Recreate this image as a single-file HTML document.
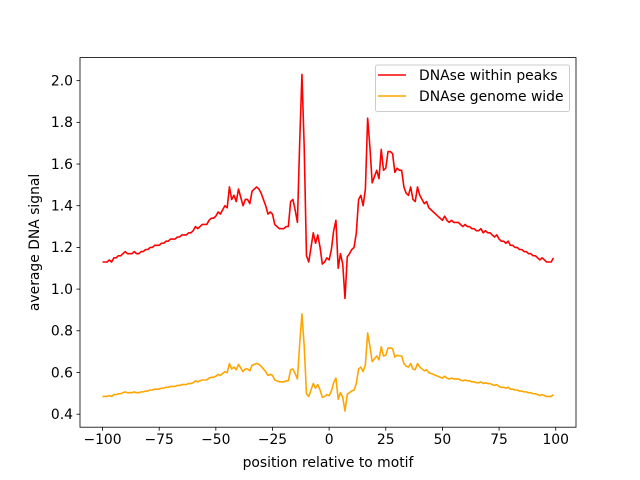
<!DOCTYPE html>
<html><head><meta charset="utf-8"><style>
body{margin:0;background:#fff}
svg{display:block;font-family:"DejaVu Sans","Liberation Sans",sans-serif}
</style></head><body>
<svg id="chart" width="640" height="480" viewBox="0 0 640 480">
<rect x="0" y="0" width="640" height="480" fill="#fff"/>
<g id="plot"></g>
<rect x="80" y="57.6" width="496" height="369.6" fill="none" stroke="#000" stroke-width="0.8"/>
<g id="xticks"></g>
<g id="yticks"></g>
<text x="328" y="467" font-size="13.9" text-anchor="middle">position relative to motif</text>
<text transform="translate(39,242.4) rotate(-90)" font-size="13.9" text-anchor="middle">average DNA signal</text>
<g>
<rect x="375.5" y="65" width="194" height="46.5" rx="2" fill="#fff" fill-opacity="0.8" stroke="#ccc" stroke-width="1"/>
<line x1="378" y1="75" x2="406" y2="75" stroke="#ff0000" stroke-width="1.5"/>
<text x="419" y="80" font-size="13.9">DNAse within peaks</text>
<line x1="378" y1="96" x2="406" y2="96" stroke="#ffa500" stroke-width="1.5"/>
<text x="419" y="101" font-size="13.9">DNAse genome wide</text>
</g>
</svg>
<script>
const xStart = -100;
const peaks = [
1.13,1.13,1.13,1.14,1.13,1.15,1.15,1.16,1.16,1.17,
1.18,1.17,1.17,1.17,1.18,1.17,1.17,1.18,1.18,1.19,
1.19,1.20,1.20,1.21,1.21,1.21,1.22,1.22,1.23,1.23,
1.24,1.24,1.24,1.25,1.25,1.26,1.26,1.26,1.27,1.27,
1.28,1.30,1.29,1.30,1.31,1.31,1.31,1.33,1.34,1.34,
1.35,1.37,1.36,1.38,1.40,1.39,1.49,1.43,1.45,1.42,
1.48,1.44,1.40,1.43,1.43,1.41,1.47,1.48,1.49,1.48,1.46,1.43,1.40,1.36,
1.37,1.36,1.31,1.30,1.29,1.29,1.29,1.30,1.30,1.42,1.43,1.38,1.32,1.70,2.03,1.68,
1.16,1.13,1.20,1.27,1.22,1.26,1.20,1.12,1.13,1.15,1.14,1.19,1.28,1.33,1.10,1.17,
1.12,0.955,1.155,1.17,1.19,1.20,1.27,1.43,1.45,1.40,1.48,1.82,1.68,1.51,1.54,1.57,
1.53,1.67,1.57,1.58,1.66,1.66,1.65,1.56,1.58,1.57,1.57,1.49,1.46,1.45,1.49,1.43,
1.42,1.49,1.45,1.43,1.41,1.42,1.39,
1.38,1.37,1.36,1.35,1.34,1.33,1.35,1.33,1.32,1.33,
1.32,1.32,1.32,1.31,1.30,1.31,1.30,1.30,1.29,1.29,
1.28,1.28,1.29,1.27,1.28,1.27,1.27,1.26,1.25,1.26,
1.24,1.23,1.23,1.22,1.23,1.21,1.21,1.20,1.20,1.19,
1.19,1.18,1.18,1.17,1.17,1.16,1.16,1.15,1.14,1.15,
1.14,1.13,1.13,1.13,1.15
];
const genome = [
.485,.485,.485,.489,.485,.494,.494,.498,.498,.503,
.507,.503,.503,.503,.507,.503,.503,.507,.507,.511,
.511,.516,.516,.520,.520,.520,.525,.525,.529,.529,
.533,.533,.533,.538,.538,.542,.542,.542,.547,.547,
.551,.560,.555,.560,.564,.564,.564,.573,.577,.577,
.582,.591,.586,.595,.604,.599,.643,.617,.626,.613,
.639,.621,.604,.617,.617,.608,.635,.639,.643,.639,.630,.617,.604,.586,
.591,.586,.564,.560,.555,.555,.555,.560,.560,.613,.617,.595,.569,.736,.881,.727,
.498,.485,.516,.547,.525,.542,.516,.481,.485,.494,.489,.511,.551,.573,.472,.503,
.481,.415,.496,.503,.511,.516,.547,.617,.626,.604,.639,.789,.727,.652,.665,.679,
.661,.723,.679,.683,.718,.718,.714,.674,.683,.679,.679,.643,.630,.626,.643,.617,
.613,.643,.626,.617,.608,.613,.599,
.595,.591,.586,.582,.577,.573,.582,.573,.569,.573,
.569,.569,.569,.564,.560,.564,.560,.560,.555,.555,
.551,.551,.555,.547,.551,.547,.547,.542,.538,.542,
.533,.529,.529,.525,.529,.520,.520,.516,.516,.511,
.511,.507,.507,.503,.503,.498,.498,.494,.489,.494,
.489,.485,.485,.485,.494
];
const xTicks = [-100,-75,-50,-25,0,25,50,75,100];
const yTicks = [0.4,0.6,0.8,1.0,1.2,1.4,1.6,1.8,2.0];
const yTickLabels = ["0.4","0.6","0.8","1.0","1.2","1.4","1.6","1.8","2.0"];

const X0=80,X1=576,Y0=57.6,Y1=427.2;
const xMin=-109.95,xMax=108.95,yMin=0.3375,yMax=2.1106;
const xs=v=>X0+(v-xMin)/(xMax-xMin)*(X1-X0);
const ys=v=>Y1-(v-yMin)/(yMax-yMin)*(Y1-Y0);
const NS="http://www.w3.org/2000/svg";
function mk(tag,attrs,parent){const e=document.createElementNS(NS,tag);for(const k in attrs)e.setAttribute(k,attrs[k]);parent.appendChild(e);return e;}

const plot=document.getElementById('plot');
function drawLine(arr,color,name){
  const pts=arr.map((v,i)=>xs(xStart+i).toFixed(2)+','+ys(v).toFixed(2)).join(' ');
  const pl=mk('polyline',{points:pts,fill:'none',stroke:color,'stroke-width':1.6,'stroke-linejoin':'round'},plot);
  
  
}
drawLine(peaks,'#ff0000','series-within-peaks');
drawLine(genome,'#ffa500','series-genome-wide');

const xg=document.getElementById('xticks');
xTicks.forEach(t=>{
  const x=xs(t);
  const l=mk('line',{x1:x,x2:x,y1:Y1,y2:Y1+3.5,stroke:'#000','stroke-width':0.8},xg);
  
  
  const tx=mk('text',{x:x,y:Y1+17,'font-size':13.9,'text-anchor':'middle'},xg);
  tx.textContent=(t<0?'\u2212'+(-t):String(t));
  
  
});
const yg=document.getElementById('yticks');
yTicks.forEach((t,i)=>{
  const y=ys(t);
  const l=mk('line',{x1:X0-3.5,x2:X0,y1:y,y2:y,stroke:'#000','stroke-width':0.8},yg);
  
  
  const tx=mk('text',{x:X0-7,y:y+4.8,'font-size':13.9,'text-anchor':'end'},yg);
  tx.textContent=yTickLabels[i];
  
  
});
</script>
</body></html>
